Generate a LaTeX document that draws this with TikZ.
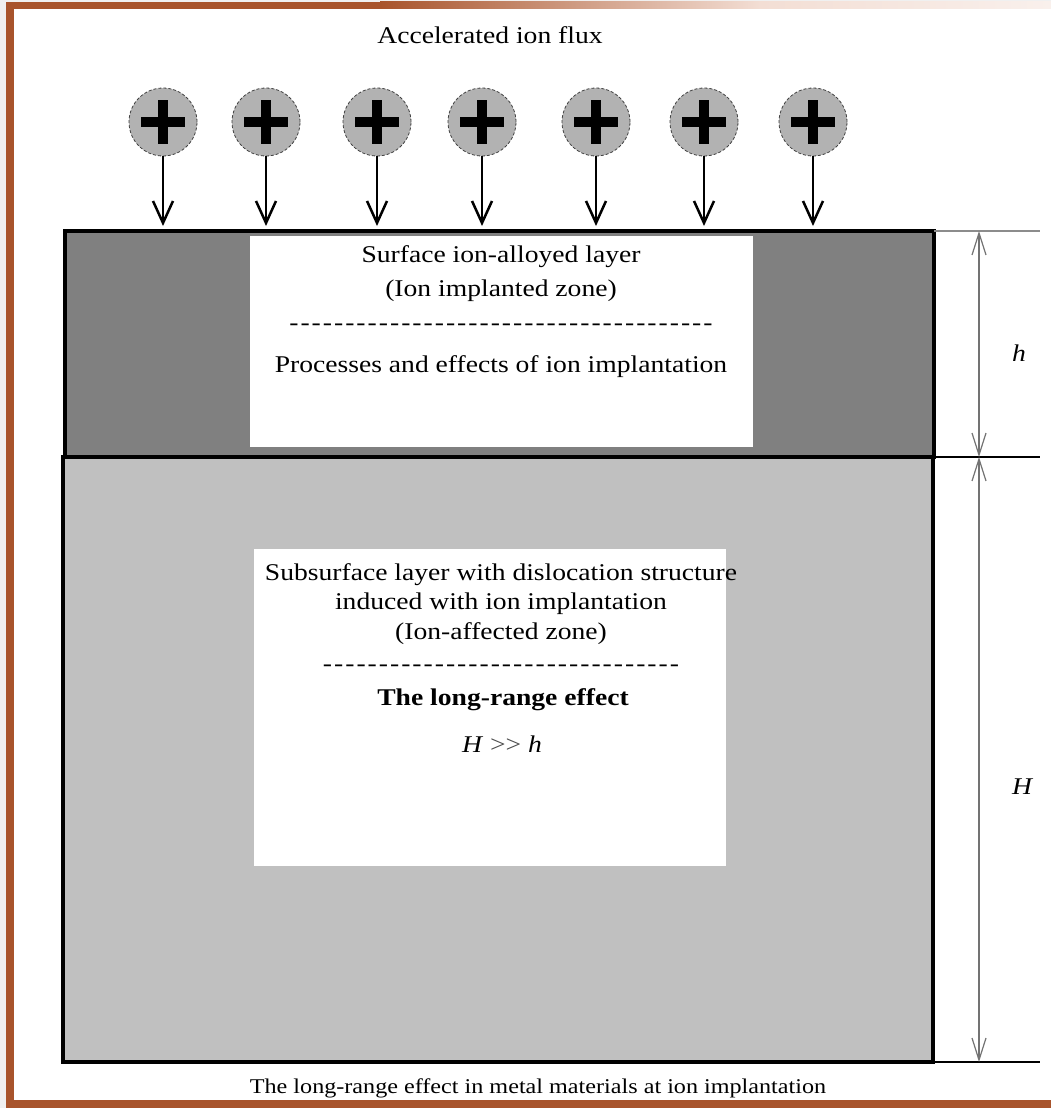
\documentclass[tikz,border=0pt]{standalone}
\usepackage{fontspec}
\setmainfont{Liberation Serif}[FakeStretch=1.15]
\usetikzlibrary{arrows.meta}
\definecolor{framebrown}{RGB}{168,84,44}
\definecolor{framefade}{RGB}{243,222,212}
\definecolor{framelight}{RGB}{249,240,236}
\definecolor{darklayer}{RGB}{128,128,128}
\definecolor{lightlayer}{RGB}{192,192,192}
\definecolor{iongray}{RGB}{178,178,178}
\newcommand\dashrow[1]{-\foreach \i in {2,...,#1}{\kern2pt-}}
\begin{document}
\begin{tikzpicture}[x=1pt,y=-1pt,
  layer/.style={draw=black,line width=3.5pt,anchor=north west,inner sep=0pt,outer sep=0pt},
  panel/.style={fill=white,anchor=north west,inner sep=0pt,outer sep=0pt},
  txt/.style={anchor=base,inner sep=0pt,font=\fontsize{24}{28}\selectfont},
  captxt/.style={anchor=base,inner sep=0pt,font=\fontsize{21}{24}\selectfont},
  dimlabel/.style={inner sep=0pt,font=\fontsize{24}{28}\selectfont\itshape},
  ion/.style={circle,fill=iongray,draw=black!75,densely dashed,line width=0.8pt,minimum size=68pt,inner sep=0pt},
  plusbar/.style={line width=10pt},
  flux/.style={line width=2.5pt,-{Straight Barb[length=22pt,width=20pt]}},
  dimline/.style={line width=1.2pt,draw=black!55,{Straight Barb[length=22pt,width=14pt]}-{Straight Barb[length=22pt,width=14pt]}},
  extline/.style={line width=1.6pt}]
\useasboundingbox (0,0) rectangle (1051,1108);
% page frame
\fill[black!6] (0,0) rectangle (1051,1108);
\fill[white] (14,9) rectangle (1051,1100);
\fill[framebrown] (6,2) rectangle (14,1108);
\fill[framebrown] (6,1100) rectangle (1051,1108);
\fill[framebrown] (6,2) rectangle (380,9);
\shade[left color=framebrown,right color=framefade] (380,2) rectangle (760,9);
\shade[left color=framefade,right color=framelight] (760,2) rectangle (1051,9);

% title
\node[txt] (title) at (490,44) {Accelerated ion flux};

% layers
\node[layer,fill=lightlayer,minimum width=870pt,minimum height=605pt] (bot) at (63,457) {};
\node[layer,fill=darklayer,minimum width=869pt,minimum height=226pt] (top) at (65,231) {};
\node[panel,minimum width=503pt,minimum height=211pt] (toppanel) at (250,236) {};
\node[panel,minimum width=472pt,minimum height=317pt] (botpanel) at (254,549) {};

% top panel text
\node[txt] (t1) at (501,262) {Surface ion-alloyed layer};
\node[txt] (t2) at (501,296) {(Ion implanted zone)};
\node[txt] (t3) at (501,330) {\dashrow{38}};
\node[txt] (t4) at (501,372) {Processes and effects of ion implantation};

% bottom panel text
\node[txt] (b1) at (501,580) {Subsurface layer with dislocation structure};
\node[txt] (b2) at (501,609) {induced with ion implantation};
\node[txt] (b3) at (501,639) {(Ion-affected zone)};
\node[txt] (b4) at (501,671) {\dashrow{32}};
\node[txt] (b5) at (503,705) {\bfseries The long-range effect};
\node[txt] (b6) at (502,752) {\textit{H} {\color{black!70}>{}>} \textit{h}};

% ions
\foreach \k/\x in {1/163,2/266,3/377,4/482,5/596,6/704,7/813}{
  \node[ion] (ion\k) at (\x,122) {};
  \draw[plusbar] (ion\k.center) +(-22,0) -- +(22,0);
  \draw[plusbar] (ion\k.center) +(0,-22) -- +(0,22);
  \coordinate (tip\k) at (\x,226);
  \draw[flux] (ion\k) -- (tip\k);
}

% dimensions
\coordinate (d1) at (979,231);
\coordinate (d2) at (979,457);
\coordinate (d3) at (979,1062);
\coordinate (e1) at (1040,231);
\coordinate (e2) at (1040,457);
\coordinate (e3) at (1040,1062);
\draw[extline,draw=black!45] (top.north east) -- (e1);
\draw[extline] (top.south east) -- (e2);
\draw[extline] (bot.south east) -- (e3);
\draw[dimline] (d1) -- (d2);
\draw[dimline] (d2) -- (d3);
\node[dimlabel] (hlab) at (1019,353) {h};
\node[dimlabel] (Hlab) at (1022,787) {H};

% caption
\node[captxt] (cap) at (538,1093) {The long-range effect in metal materials at ion implantation};
\end{tikzpicture}
\end{document}
